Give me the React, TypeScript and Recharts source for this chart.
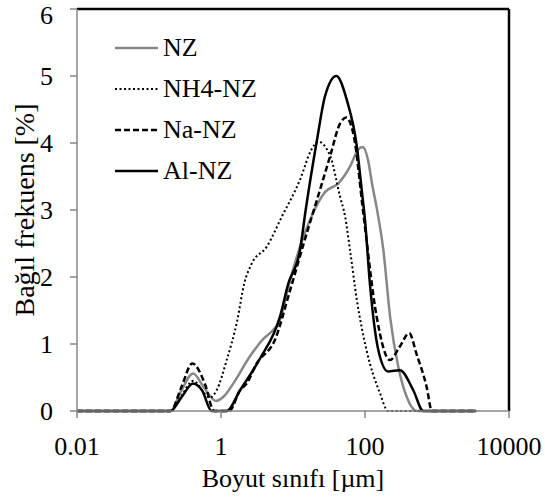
import React from "react";
import { LineChart, Line, XAxis, YAxis, Legend, ReferenceLine } from "recharts";

const FONT = "'Liberation Serif', 'Times New Roman', serif";
const FS = 26;

// particle size class [µm] and relative frequency [%]
const nzSize = [0.01, 0.2, 0.28, 0.41, 0.58, 0.85, 1.1, 1.5, 2.5, 3.9, 5.3, 6.6, 8.6, 12.5, 18, 28, 43, 62, 80, 93, 110, 125, 150, 180, 223, 290, 380, 525, 3500];
const nzFreq = [0, 0, 0.3, 0.56, 0.35, 0.15, 0.22, 0.42, 0.81, 1.08, 1.21, 1.36, 1.85, 2.45, 2.9, 3.27, 3.4, 3.65, 3.9, 3.94, 3.75, 3.4, 2.95, 2.4, 1.41, 0.66, 0.21, 0, 0];

const nh4Size = [0.01, 0.2, 0.28, 0.41, 0.7, 0.87, 1.2, 1.68, 2.1, 2.67, 4.3, 7, 12.5, 18, 22.4, 33, 45, 53, 62, 77, 105, 162, 209, 3500];
const nh4Freq = [0, 0, 0.22, 0.45, 0.2, 0.31, 0.76, 1.35, 1.9, 2.2, 2.45, 2.9, 3.45, 3.9, 4.02, 3.8, 3.2, 2.9, 2.4, 1.66, 0.91, 0.26, 0, 0];

const naSize = [0.01, 0.2, 0.28, 0.4, 0.6, 0.8, 1.3, 1.84, 2.27, 3.13, 5.6, 9.1, 15, 21.5, 32.7, 45, 55, 70, 96, 145, 222, 300, 412, 520, 718, 850, 3500];
const naFreq = [0, 0, 0.35, 0.71, 0.4, 0, 0, 0.31, 0.41, 0.71, 1.06, 1.8, 2.6, 3.15, 3.8, 4.29, 4.38, 4.1, 2.9, 1.41, 0.76, 0.95, 1.16, 0.85, 0.36, 0, 0];

const alSize = [0.01, 0.2, 0.28, 0.41, 0.55, 0.74, 1.2, 1.84, 3.47, 6.6, 8.6, 12.5, 15, 21.5, 27.7, 40, 56, 77, 90, 100, 117, 153, 209, 306, 468, 645, 3500];
const alFreq = [0, 0, 0.2, 0.41, 0.3, 0, 0, 0.31, 0.78, 1.41, 1.9, 2.4, 3.0, 4.04, 4.69, 5.0, 4.64, 3.95, 3.3, 2.85, 1.9, 0.91, 0.59, 0.61, 0.31, 0, 0];

const xTicks = [0.01, 1, 100, 10000];
const yTicks = [0, 1, 2, 3, 4, 5, 6];

const toPoints = (xs: number[], ys: number[]) => xs.map((x, i) => ({ x, y: ys[i] }));

const SERIES = [
  { name: "NZ", data: toPoints(nzSize, nzFreq), color: "#878787", dash: undefined, width: 2.5 },
  { name: "NH4-NZ", data: toPoints(nh4Size, nh4Freq), color: "#000000", dash: "2 2.5", width: 2 },
  { name: "Na-NZ", data: toPoints(naSize, naFreq), color: "#000000", dash: "6 3", width: 2.5 },
  { name: "Al-NZ", data: toPoints(alSize, alFreq), color: "#000000", dash: undefined, width: 2.5 },
];

const renderLegend = () => (
  <div style={{ fontFamily: FONT, fontSize: FS, color: "#000", lineHeight: 1 }}>
    {SERIES.map((s) => (
      <div key={s.name} style={{ display: "flex", alignItems: "center", height: 41 }}>
        <svg width={44} height={10}>
          <line x1={0} y1={5} x2={43} y2={5} stroke={s.color} strokeWidth={s.width} strokeDasharray={s.dash} />
        </svg>
        <span style={{ marginLeft: 4 }}>{s.name}</span>
      </div>
    ))}
  </div>
);

export default function App() {
  const tickStyle = { fill: "#000", fontSize: FS, fontFamily: FONT };
  return (
    <div style={{ position: "absolute", left: 0, top: 0, fontFamily: FONT }}>
      <LineChart width={545} height={497} margin={{ top: 9, right: 36, left: 0, bottom: 0 }}>
        <XAxis
          dataKey="x"
          type="number"
          scale="log"
          domain={[0.01, 10000]}
          ticks={xTicks}
          allowDataOverflow
          height={86}
          tick={tickStyle}
          tickSize={7}
          tickMargin={19}
          axisLine={{ stroke: "#878787", strokeWidth: 1.5 }}
          tickLine={{ stroke: "#878787", strokeWidth: 1.5 }}
          label={{ value: "Boyut sınıfı [µm]", position: "insideBottom", offset: 10, fill: "#000", fontSize: FS, fontFamily: FONT }}
        />
        <YAxis
          type="number"
          domain={[0, 6]}
          ticks={yTicks}
          width={77}
          tick={tickStyle}
          tickSize={7}
          tickMargin={17}
          axisLine={{ stroke: "#878787", strokeWidth: 1.5 }}
          tickLine={{ stroke: "#878787", strokeWidth: 1.5 }}
          label={{ value: "Bağıl frekuens [%]", angle: -90, position: "center", dx: -14, fill: "#000", fontSize: 28, fontFamily: FONT }}
        />
        <ReferenceLine y={6} stroke="#000" strokeWidth={2.5} />
        <ReferenceLine x={10000} stroke="#000" strokeWidth={2.5} />
        <Legend
          layout="vertical"
          align="center"
          verticalAlign="middle"
          content={renderLegend}
          wrapperStyle={{ left: 115, top: 27, width: 200 }}
        />
        {SERIES.map((s) => (
          <Line
            key={s.name}
            data={s.data}
            dataKey="y"
            name={s.name}
            type="monotone"
            stroke={s.color}
            strokeWidth={s.width}
            strokeDasharray={s.dash}
            dot={false}
            activeDot={false}
            isAnimationActive={false}
          />
        ))}
      </LineChart>
    </div>
  );
}
